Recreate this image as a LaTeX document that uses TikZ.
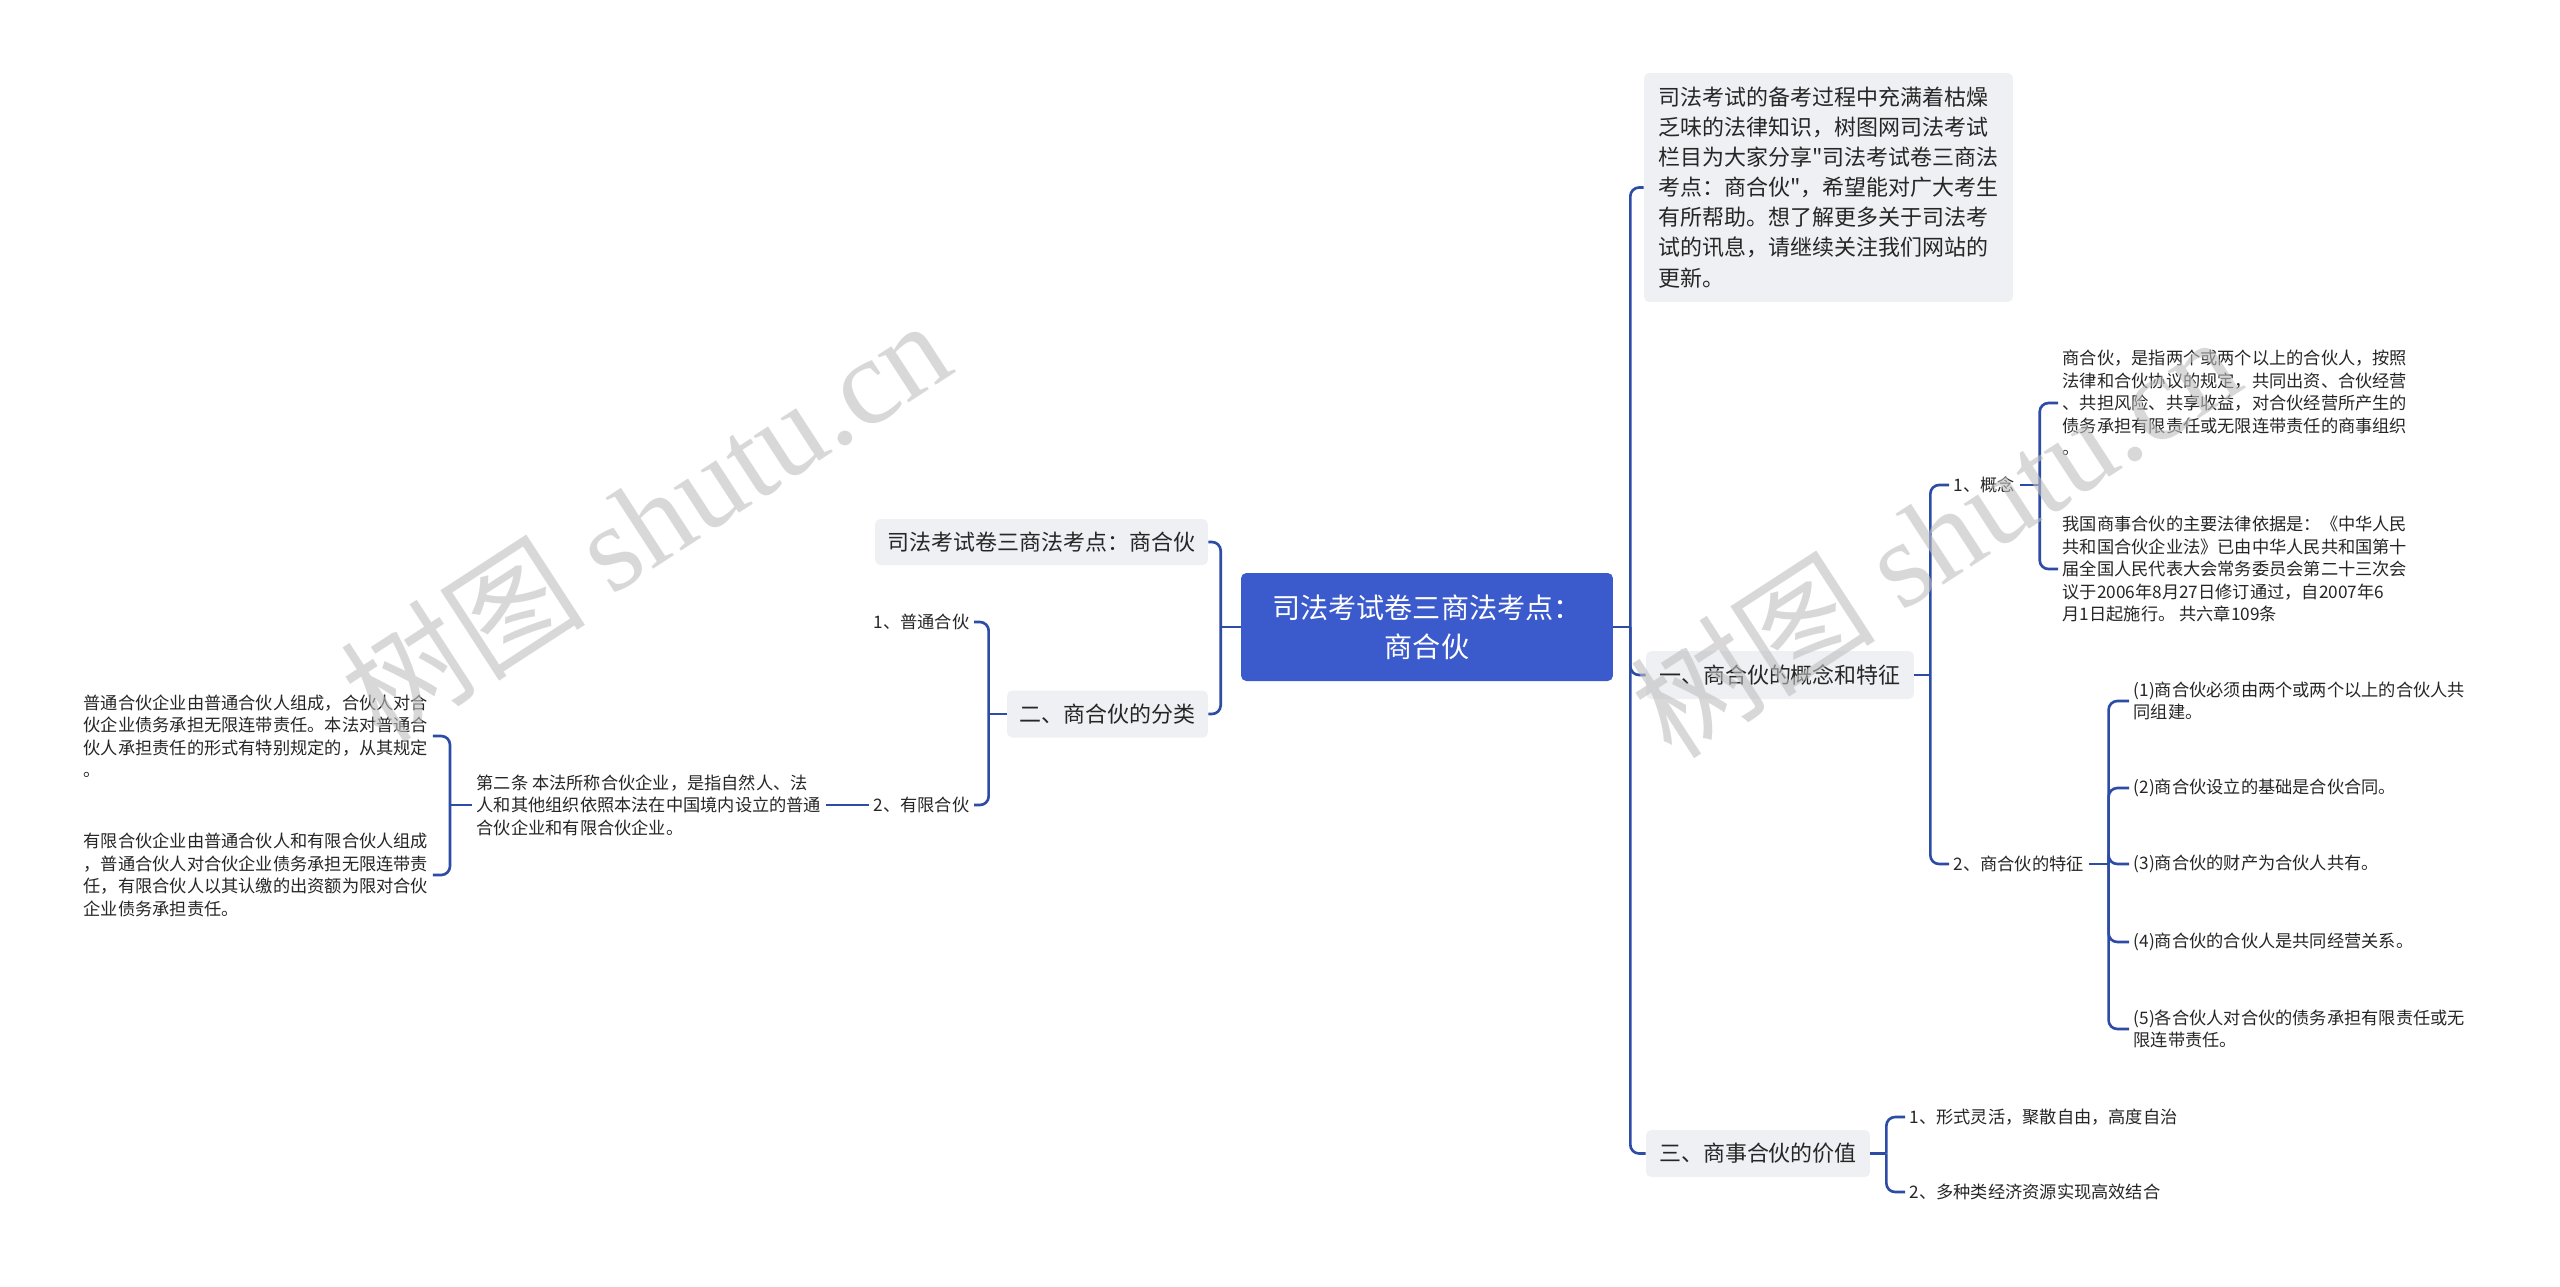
\documentclass[tikz,border=0pt]{standalone}
\usepackage{fontspec}
\setmainfont{Noto Sans CJK SC}[Ligatures=TeXOff]
\newfontfamily\wmlatin{Liberation Serif}
\usetikzlibrary{calc}
\definecolor{mapblue}{RGB}{59,90,204}
\definecolor{linkblue}{RGB}{44,76,166}
\definecolor{boxgray}{RGB}{238,240,244}
\definecolor{inkgray}{RGB}{38,38,38}

\begin{document}
\begin{tikzpicture}[x=0.02cm, y=-0.02cm,
    link/.style={linkblue, line width=1.5pt, rounded corners=5pt},
    rootbox/.style={fill=mapblue, text=white, rounded corners=3pt, align=center, font=\fontsize{16}{22}\selectfont},
    mainbox/.style={fill=boxgray, text=inkgray, rounded corners=3pt, inner sep=0pt, font=\fontsize{12.5}{17.1}\selectfont},
    leaf/.style={text=inkgray, align=left, inner xsep=2.5pt, inner ysep=0pt, font=\fontsize{9.8}{12.8}\selectfont},
    watermark/.style={black!25, opacity=0.6, rotate=33, inner sep=0pt, font=\fontsize{70}{70}\selectfont}]
\fill[white] (0,0) rectangle (2560,1286);
\useasboundingbox (0,0) rectangle (2560,1286);

% central topic
\node[rootbox, minimum width=7.44cm, minimum height=2.16cm] (root) at (1427,627) {司法考试卷三商法考点：\\商合伙};

% left side
\node[mainbox, minimum width=6.66cm, minimum height=0.92cm] (title) at (1041.5,542) {司法考试卷三商法考点：商合伙};
\node[mainbox, minimum width=4.02cm, minimum height=0.94cm] (kinds) at (1107.5,714) {二、商合伙的分类};
\node[leaf, anchor=east] (general) at (974,622) {1、普通合伙};
\node[leaf, anchor=east] (limited) at (974,805) {2、有限合伙};
\node[leaf, anchor=west] (art2) at (472,805) {第二条 本法所称合伙企业，是指自然人、法\\人和其他组织依照本法在中国境内设立的普通\\合伙企业和有限合伙企业。};
\node[leaf, anchor=west] (gendef) at (79,736) {普通合伙企业由普通合伙人组成，合伙人对合\\伙企业债务承担无限连带责任。本法对普通合\\伙人承担责任的形式有特别规定的，从其规定\\。};
\node[leaf, anchor=west] (limdef) at (79,875) {有限合伙企业由普通合伙人和有限合伙人组成\\，普通合伙人对合伙企业债务承担无限连带责\\任，有限合伙人以其认缴的出资额为限对合伙\\企业债务承担责任。};

% right side
\node[mainbox, align=left, minimum width=7.38cm, minimum height=4.58cm] (intro) at (1828.5,187.5) {司法考试的备考过程中充满着枯燥\\乏味的法律知识，树图网司法考试\\栏目为大家分享"司法考试卷三商法\\考点：商合伙"，希望能对广大考生\\有所帮助。想了解更多关于司法考\\试的讯息，请继续关注我们网站的\\更新。};
\node[mainbox, minimum width=5.36cm, minimum height=0.96cm] (concept) at (1780,675) {一、商合伙的概念和特征};
\node[mainbox, minimum width=4.48cm, minimum height=0.94cm] (value) at (1758,1153.5) {三、商事合伙的价值};
\node[leaf, anchor=west] (notion) at (1949,485) {1、概念};
\node[leaf, anchor=west] (traits) at (1949,864) {2、商合伙的特征};
\node[leaf, anchor=west] (notiondef) at (2058,403) {商合伙，是指两个或两个以上的合伙人，按照\\法律和合伙协议的规定，共同出资、合伙经营\\、共担风险、共享收益，对合伙经营所产生的\\债务承担有限责任或无限连带责任的商事组织\\。};
\node[leaf, anchor=west] (lawbasis) at (2058,569) {我国商事合伙的主要法律依据是：《中华人民\\共和国合伙企业法》已由中华人民共和国第十\\届全国人民代表大会常务委员会第二十三次会\\议于2006年8月27日修订通过，自2007年6\\月1日起施行。 共六章109条};
\node[leaf, anchor=west] (trait1) at (2129,701) {(1)商合伙必须由两个或两个以上的合伙人共\\同组建。};
\node[leaf, anchor=west] (trait2) at (2129,788) {(2)商合伙设立的基础是合伙合同。};
\node[leaf, anchor=west] (trait3) at (2129,864) {(3)商合伙的财产为合伙人共有。};
\node[leaf, anchor=west] (trait4) at (2129,942) {(4)商合伙的合伙人是共同经营关系。};
\node[leaf, anchor=west] (trait5) at (2129,1029) {(5)各合伙人对合伙的债务承担有限责任或无\\限连带责任。};
\node[leaf, anchor=west] (value1) at (1905,1117) {1、形式灵活，聚散自由，高度自治};
\node[leaf, anchor=west] (value2) at (1905,1192) {2、多种类经济资源实现高效结合};

% connectors
\coordinate (rootL) at ($(root.west)+(-20,0)$);
\draw[link] (root.west) -- (rootL);
\foreach \n in {title,kinds} \draw[link] (rootL) |- (\n.east);
\coordinate (kindsL) at ($(kinds.west)+(-18,0)$);
\draw[link] (kinds.west) -- (kindsL);
\foreach \n in {general,limited} \draw[link] (kindsL) |- (\n.east);
\draw[link] (limited.west) -- (art2.east);
\coordinate (art2L) at ($(art2.west)+(-22,0)$);
\draw[link] (art2.west) -- (art2L);
\foreach \n in {gendef,limdef} \draw[link] (art2L) |- (\n.east);

\coordinate (rootR) at ($(root.east)+(17,0)$);
\draw[link] (root.east) -- (rootR);
\foreach \n in {intro,concept,value} \draw[link] (rootR) |- (\n.west);
\coordinate (conceptR) at ($(concept.east)+(16,0)$);
\draw[link] (concept.east) -- (conceptR);
\foreach \n in {notion,traits} \draw[link] (conceptR) |- (\n.west);
\coordinate (notionR) at ($(notion.east)+(20,0)$);
\draw[link] (notion.east) -- (notionR);
\foreach \n in {notiondef,lawbasis} \draw[link] (notionR) |- (\n.west);
\coordinate (traitsR) at ($(traits.east)+(20,0)$);
\draw[link] (traits.east) -- (traitsR);
\foreach \n in {trait1,trait2,trait3,trait4,trait5} \draw[link] (traitsR) |- (\n.west);
\coordinate (valueR) at ($(value.east)+(16,0)$);
\draw[link] (value.east) -- (valueR);
\foreach \n in {value1,value2} \draw[link] (valueR) |- (\n.west);

% watermarks
\node[watermark] (wmleft) at (645,519) {树图 {\wmlatin shutu.cn}};
\node[watermark] (wmright) at (1935,535) {树图 {\wmlatin shutu.cn}};
\end{tikzpicture}
\end{document}
